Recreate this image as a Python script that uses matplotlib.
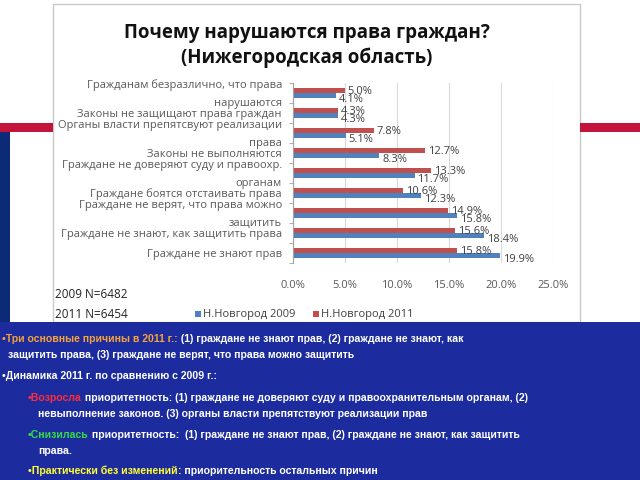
import matplotlib
matplotlib.use('Agg')
import matplotlib.pyplot as plt
from matplotlib.patches import Rectangle
import numpy as np

# categories top to bottom, values in %
categories = [
    'Гражданам безразлично, что права\nнарушаются',
    'Законы не защищают права граждан',
    'Органы власти препятсвуют реализации\nправа',
    'Законы не выполняются',
    'Граждане не доверяют суду и правоохр.\nорганам',
    'Граждане боятся отстаивать права',
    'Граждане не верят, что права можно\nзащитить',
    'Граждане не знают, как защитить права',
    'Граждане не знают прав',
]
nn2009 = [4.1, 4.3, 5.1, 8.3, 11.7, 12.3, 15.8, 18.4, 19.9]
nn2011 = [5.0, 4.3, 7.8, 12.7, 13.3, 10.6, 14.9, 15.6, 15.8]
xticks = [0, 5, 10, 15, 20, 25]
series_names = ['Н.Новгород 2009', 'Н.Новгород 2011']
sample_notes = ['2009 N=6482', '2011 N=6454']

BLUE = '#4f81bd'
RED = '#c0504d'
CHART_FONT = ['Open Sans', 'DejaVu Sans']
PANEL_FONT = ['Liberation Sans', 'DejaVu Sans']

fig = plt.figure(figsize=(6.4, 4.8), dpi=100)

# background layer in pixel coordinates
bg = fig.add_axes([0, 0, 1, 1])
bg.set_xlim(0, 640)
bg.set_ylim(480, 0)
bg.axis('off')
bg.set_zorder(0)

bg.add_patch(Rectangle((53, 4), 527, 318, facecolor='white', edgecolor='#c8c8c8', lw=1))
bg.add_patch(Rectangle((0, 123), 53, 9, facecolor='#c4143c', lw=0))
bg.add_patch(Rectangle((580, 123), 60, 9, facecolor='#c4143c', lw=0))
bg.add_patch(Rectangle((0, 132), 10, 190, facecolor='#0c2a75', lw=0))
bg.add_patch(Rectangle((0, 322), 640, 158, facecolor='#1c2b9e', lw=0))

bg.text(307, 33, 'Почему нарушаются права граждан?', ha='center', va='center',
        fontsize=13.5, fontweight='bold', family=CHART_FONT, color='#111111')
bg.text(307, 58, '(Нижегородская область)', ha='center', va='center',
        fontsize=13.5, fontweight='bold', family=CHART_FONT, color='#111111')

# notes and legend
bg.text(55, 295, sample_notes[0], va='center', fontsize=8.5, family=CHART_FONT, color='#222222')
bg.text(55, 315, sample_notes[1], va='center', fontsize=8.5, family=CHART_FONT, color='#222222')
bg.add_patch(Rectangle((195, 311), 6, 6, facecolor=BLUE, lw=0))
bg.text(203, 314, series_names[0], va='center', fontsize=8, family=CHART_FONT, color='#404040')
bg.add_patch(Rectangle((313, 311), 6, 6, facecolor=RED, lw=0))
bg.text(321, 314, series_names[1], va='center', fontsize=8, family=CHART_FONT, color='#404040')

# chart
ax = fig.add_axes([293 / 640, 1 - 263 / 480, 260 / 640, 180 / 480])
ax.set_zorder(1)
ax.patch.set_alpha(0)
y = np.arange(len(categories))[::-1]
h = 0.26
ax.barh(y - h / 2, nn2009, height=h, color=BLUE)
ax.barh(y + h / 2, nn2011, height=h, color=RED)
for yi, v in zip(y, nn2009):
    ax.annotate('%.1f%%' % v, (v, yi - h / 2), xytext=(2, -3), textcoords='offset points',
                va='center', fontsize=8, family=CHART_FONT, color='#404040')
for yi, v in zip(y, nn2011):
    ax.annotate('%.1f%%' % v, (v, yi + h / 2), xytext=(2, -1), textcoords='offset points',
                va='center', fontsize=8, family=CHART_FONT, color='#404040')

# category labels (Excel-like wrapped labels with wide line spacing)
for yi, lab in zip(y, categories):
    ax.annotate(lab, (0, yi), xycoords=ax.get_yaxis_transform(), xytext=(-8, -1),
                textcoords='offset points', ha='right', va='center', linespacing=1.9,
                fontsize=8, family=CHART_FONT, color='#595959')

ax.set_xlim(0, 25)
ax.set_ylim(-0.5, len(categories) - 0.5)
ax.set_xticks(xticks, ['%.1f%%' % t for t in xticks])
ax.set_yticks([])
ax.set_yticks(np.arange(-0.5, len(categories), 1), minor=True)
ax.tick_params(axis='x', length=0, pad=12, labelsize=8, labelcolor='#595959')
ax.tick_params(axis='y', which='minor', length=3, color='#a0a0a0', labelleft=False)
for lbl in ax.get_xticklabels():
    lbl.set_family(CHART_FONT)
ax.xaxis.grid(True, color='#d9d9d9', lw=0.8)
ax.set_axisbelow(True)
for s in ['top', 'right', 'bottom']:
    ax.spines[s].set_visible(False)
ax.spines['left'].set_color('#a0a0a0')


# bottom panel text, segments of different colors on one line
def line(x, yy, parts, size=7.6):
    t = bg.text(x, yy, parts[0][0], color=parts[0][1], va='center', ha='left',
                fontsize=size, fontweight='bold', family=PANEL_FONT)
    for txt, col in parts[1:]:
        t = bg.annotate(txt, xy=(1, 0), xycoords=t, va='bottom', ha='left', color=col,
                        fontsize=size, fontweight='bold', family=PANEL_FONT)


W = 'white'
line(2, 339, [('•Три основные причины в 2011 г.:', '#f5a33a'),
              (' (1) граждане не знают прав, (2) граждане не знают, как', W)])
line(8, 355, [('защитить права, (3) граждане не верят, что права можно защитить', W)])
line(2, 376, [('•Динамика 2011 г. по сравнению с 2009 г.:', W)])
line(28, 398, [('•Возросла', '#ff2d3c'),
               (' приоритетность: (1) граждане не доверяют суду и правоохранительным органам, (2)', W)])
line(38, 414, [('невыполнение законов. (3) органы власти препятствуют реализации прав', W)])
line(28, 435, [('•Снизилась', '#33dd44'),
               (' приоритетность:  (1) граждане не знают прав, (2) граждане не знают, как защитить', W)])
line(38, 451, [('права.', W)])
line(28, 471, [('•Практически без изменений', '#ffff33'),
               (': приорительность остальных причин', W)])

fig.savefig('out.png', dpi=100)
